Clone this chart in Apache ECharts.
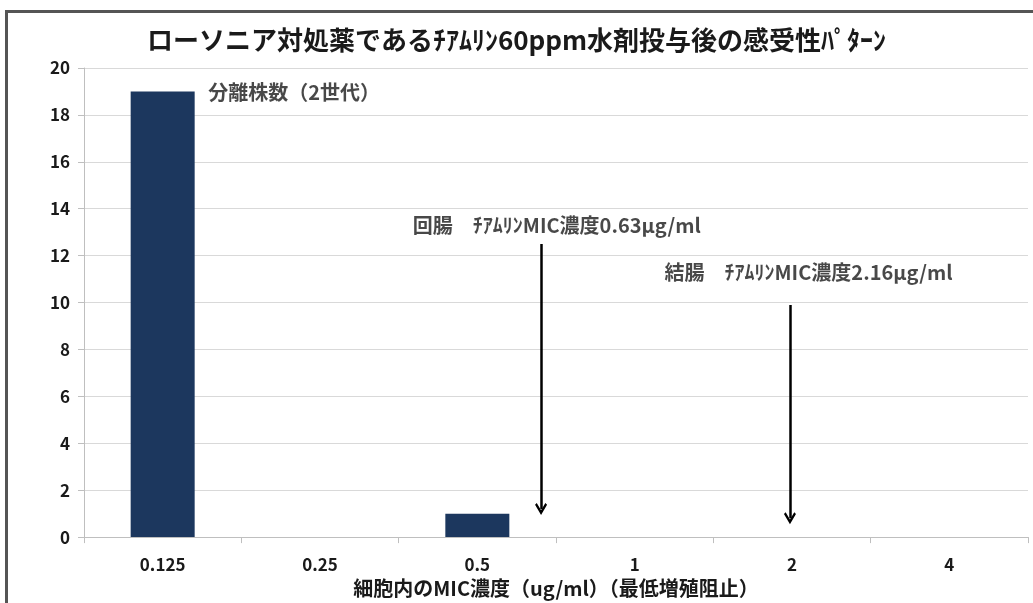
<!DOCTYPE html>
<html>
<head>
<meta charset="utf-8">
<script src="https://cdn.jsdelivr.net/npm/echarts@6/dist/echarts.min.js"></script>
<style>
html,body{margin:0;padding:0;background:#fff;}
#chart{width:1033px;height:603px;}
</style>
</head>
<body>
<div id="chart"></div>
<script>
// ---- data ----
const titleText = 'ローソニア対処薬であるﾁｱﾑﾘﾝ60ppm水剤投与後の感受性ﾊﾟﾀｰﾝ';
const categories = ['0.125', '0.25', '0.5', '1', '2', '4'];
const isolateCounts = [19, 0, 1, 0, 0, 0];
const xAxisName = '細胞内のMIC濃度（ug/ml）（最低増殖阻止）';
const yTicks = { min: 0, max: 20, interval: 2 };
// annotation texts and anchor positions (x in category-index units, y in counts)
const noteTexts = ['分離株数（2世代）', '回腸　ﾁｱﾑﾘﾝMIC濃度0.63μg/ml', '結腸　ﾁｱﾑﾘﾝMIC濃度2.16μg/ml'];
const noteX = [0.29, 1.59, 3.19];
const noteY = [18.94, 13.28, 11.28];
// arrows: [x, yStart, yEnd]
const arrowX = [2.405, 3.987];
const arrowTop = [12.5, 9.9];
const arrowEnd = [1.2, 0.8];

const FONT = '"Noto Sans CJK JP", "Noto Sans", sans-serif';

const chart = echarts.init(document.getElementById('chart'), null, { renderer: 'canvas' });

const option = {
  backgroundColor: '#ffffff',
  animation: false,
  title: {
    text: titleText,
    left: 'center',
    top: 27,
    padding: 0,
    textStyle: { fontFamily: FONT, fontWeight: 'bold', fontSize: 26, color: '#1a1a1a' }
  },
  graphic: [{
    type: 'rect',
    shape: { x: 6.5, y: 11.5, width: 1100, height: 700 },
    style: { fill: 'none', stroke: '#555555', lineWidth: 3 },
    silent: true
  }],
  grid: { left: 84, right: 5, top: 68, bottom: 65, containLabel: false },
  xAxis: [{
    type: 'category',
    data: categories,
    axisLine: { lineStyle: { color: '#bfbfbf', width: 1 } },
    axisTick: { show: true, length: 6, lineStyle: { color: '#bfbfbf' } },
    axisLabel: { margin: 19, fontFamily: FONT, fontWeight: 'bold', fontSize: 17, color: '#1a1a1a' },
    name: xAxisName,
    nameLocation: 'middle',
    nameGap: 35,
    nameTextStyle: { fontFamily: FONT, fontWeight: 'bold', fontSize: 20, color: '#1a1a1a' }
  }, {
    type: 'value',
    min: -0.5, max: 5.5,
    show: false
  }],
  yAxis: {
    type: 'value',
    min: yTicks.min, max: yTicks.max, interval: yTicks.interval,
    axisLine: { show: true, onZero: false, lineStyle: { color: '#bfbfbf' } },
    axisTick: { show: true, length: 6, lineStyle: { color: '#bfbfbf' } },
    splitLine: { lineStyle: { color: '#d9d9d9', width: 1 } },
    axisLabel: { margin: 14, fontFamily: FONT, fontWeight: 'bold', fontSize: 17, color: '#1a1a1a' }
  },
  series: [{
    type: 'bar',
    data: isolateCounts,
    barWidth: 64,
    itemStyle: { color: '#1c375e' }
  }, {
    type: 'scatter',
    xAxisIndex: 1,
    symbolSize: 0,
    data: noteTexts.map((t, i) => ({ value: [noteX[i], noteY[i]], name: t })),
    label: {
      show: true,
      position: 'right',
      distance: 0,
      formatter: p => p.name,
      fontFamily: FONT,
      fontWeight: 'bold',
      fontSize: 20,
      color: '#1a1a1a'
    },
    silent: true
  }, {
    type: 'lines',
    coordinateSystem: 'cartesian2d',
    xAxisIndex: 1,
    symbol: ['none', 'path://M5,0 L10,8.6 L8.6,10 L5,4 L1.4,10 L0,8.6 Z'],
    symbolSize: [12, 12],
    lineStyle: { color: '#000000', width: 2.5, opacity: 1 },
    data: arrowX.map((x, i) => ({ coords: [[x, arrowTop[i]], [x, arrowEnd[i]]] })),
    silent: true
  }]
};

chart.setOption(option);
</script>
</body>
</html>
